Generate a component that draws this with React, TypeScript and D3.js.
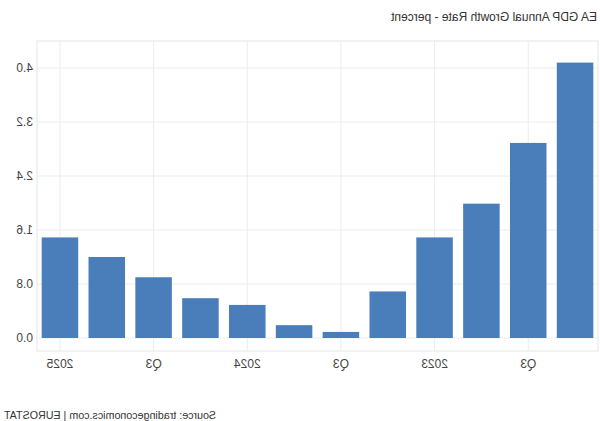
import React from "react";
import * as d3 from "d3";

const categories = ["2022Q2","2022Q3","2022Q4","2023Q1","2023Q2","2023Q3","2023Q4","2024Q1","2024Q2","2024Q3","2024Q4","2025Q1"];
const values = [4.08, 2.89, 1.99, 1.49, 0.69, 0.09, 0.19, 0.49, 0.59, 0.90, 1.20, 1.49];
const xTickLabels: [string, string][] = [["2022Q3","Q3"],["2023Q1","2023"],["2023Q3","Q3"],["2024Q1","2024"],["2024Q3","Q3"],["2025Q1","2025"]];
const yTicks = [0, 0.8, 1.6, 2.4, 3.2, 4.0];
const title = "EA GDP Annual Growth Rate - percent";
const source = "Source: tradingeconomics.com | EUROSTAT";

const W = 600, H = 421;
const frame = { left: 2, right: 563, top: 41, bottom: 351 };
const FONT = "'Liberation Sans', Arial, sans-serif";

export default function App() {
  const x = d3.scaleBand<string>().domain(categories).range([frame.left, frame.right]).paddingInner(0.22).paddingOuter(0.1);
  const y = d3.scaleLinear().domain([0, 4]).range([338, 68]);
  return (
    <svg width={W} height={H} style={{ position: "absolute", left: 0, top: 0, background: "#fff" }}>
      <g transform={`translate(${W},0) scale(-1,1)`}>
        <text x={3} y={21} fontFamily={FONT} fontSize={12} fill="#333">{title}</text>
        <rect x={frame.left} y={frame.top} width={frame.right - frame.left} height={frame.bottom - frame.top} fill="none" stroke="#e6e6e6" />
        {yTicks.map((t) => (
          <line key={"h" + t} x1={frame.left} x2={frame.right} y1={y(t)} y2={y(t)} stroke="#ececec" />
        ))}
        {xTickLabels.map(([c]) => {
          const cx = (x(c) as number) + x.bandwidth() / 2;
          return <line key={"v" + c} x1={cx} x2={cx} y1={frame.top} y2={frame.bottom} stroke="#ececec" />;
        })}
        {categories.map((c, i) => (
          <rect key={c} x={x(c)} y={y(values[i])} width={x.bandwidth()} height={y(0) - y(values[i])} fill="#4a7ebb" />
        ))}
        {yTicks.map((t) => (
          <text key={"yl" + t} x={567} y={y(t) + 4} fontFamily={FONT} fontSize={12} fill="#444">{t.toFixed(1)}</text>
        ))}
        {xTickLabels.map(([c, lab]) => (
          <text key={"xl" + c} x={(x(c) as number) + x.bandwidth() / 2} y={368} textAnchor="middle" fontFamily={FONT} fontSize={12} fill="#444">{lab}</text>
        ))}
        <text x={596} y={419} textAnchor="end" fontFamily={FONT} fontSize={10.7} fill="#333">{source}</text>
      </g>
    </svg>
  );
}
